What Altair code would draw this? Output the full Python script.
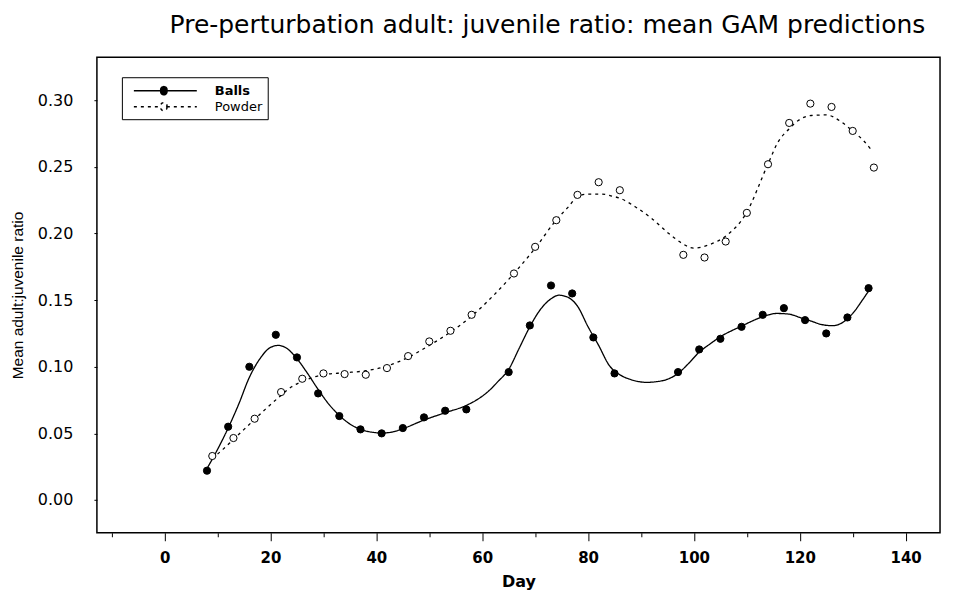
import altair as alt
import pandas as pd

# Observed means (points)
balls_day = [8, 12, 16, 21, 25, 29, 33, 37, 41, 45, 49, 53, 57, 65, 69, 73, 77, 81, 85,
             97, 101, 105, 109, 113, 117, 121, 125, 129, 133]
balls_obs = [0.022, 0.055, 0.100, 0.124, 0.107, 0.080, 0.063, 0.053, 0.050, 0.054, 0.062,
             0.067, 0.068, 0.096, 0.131, 0.161, 0.155, 0.122, 0.095, 0.096, 0.113, 0.121,
             0.130, 0.139, 0.144, 0.135, 0.125, 0.137, 0.159]

powder_day = [9, 13, 17, 22, 26, 30, 34, 38, 42, 46, 50, 54, 58, 66, 70, 74, 78, 82, 86,
              98, 102, 106, 110, 114, 118, 122, 126, 130, 134]
powder_obs = [0.033, 0.0465, 0.061, 0.081, 0.091, 0.095, 0.0945, 0.094, 0.099, 0.108, 0.119,
              0.127, 0.139, 0.170, 0.190, 0.210, 0.229, 0.2385, 0.2325, 0.184, 0.182, 0.194,
              0.2155, 0.252, 0.283, 0.2975, 0.295, 0.277, 0.2495]

# GAM fitted curves
balls_fit_day = [8, 10, 12, 14, 16, 18, 20, 21.5, 23, 25, 27, 29, 31, 33, 35, 37, 39, 41, 43,
                 45, 49, 53, 57, 59.3, 61, 63, 65, 67, 69, 71, 73, 74.5, 76, 78, 80, 82, 84,
                 86, 88, 91, 94, 97, 99, 101, 103, 105, 109, 113, 115.6, 118, 120, 122, 124,
                 126.2, 128, 130, 132, 133.2]
balls_fit = [0.0236, 0.038, 0.054, 0.072, 0.092, 0.106, 0.1145, 0.116, 0.114, 0.106, 0.095,
             0.083, 0.072, 0.0635, 0.057, 0.053, 0.051, 0.0503, 0.051, 0.0535, 0.060, 0.0655,
             0.071, 0.076, 0.081, 0.089, 0.098, 0.114, 0.130, 0.143, 0.151, 0.1537, 0.1525,
             0.1455, 0.130, 0.116, 0.101, 0.094, 0.0905, 0.0883, 0.0895, 0.095, 0.1025, 0.111,
             0.117, 0.1225, 0.1305, 0.1375, 0.140, 0.1395, 0.137, 0.1345, 0.1318, 0.1308,
             0.133, 0.140, 0.151, 0.158]

powder_fit_day = [9, 11, 13, 15, 17, 19, 22, 24, 26, 28, 30, 34, 38, 42, 46, 50, 54, 58, 62,
                  66, 70, 74, 76.3, 78.1, 80.1, 82.6, 84.5, 86.1, 88.9, 92, 95.2, 97.7, 99.9,
                  102.8, 105.9, 109.7, 113.9, 115.9, 118, 119.7, 122.2, 125, 127.9, 130, 132,
                  133.5]
powder_fit = [0.031, 0.038, 0.0455, 0.053, 0.0605, 0.068, 0.0785, 0.085, 0.089, 0.092, 0.094,
              0.0955, 0.097, 0.1005, 0.107, 0.116, 0.126, 0.138, 0.153, 0.170, 0.189, 0.2102,
              0.2201, 0.2281, 0.2296, 0.2296, 0.2281, 0.2264, 0.2201, 0.2114, 0.2002, 0.1928,
              0.189, 0.1915, 0.1978, 0.214, 0.2513, 0.2687, 0.2786, 0.2848, 0.2886, 0.289,
              0.2836, 0.2769, 0.2699, 0.2629]

series = ["Balls", "Powder"]
x_values = list(range(-10, 150, 10))
y_values = [0.0, 0.025, 0.05, 0.075, 0.1, 0.125, 0.15, 0.175, 0.2, 0.225, 0.25, 0.275, 0.3, 0.325]

obs = pd.DataFrame({
    "day": balls_day + powder_day,
    "ratio": balls_obs + powder_obs,
    "series": ["Balls"] * len(balls_day) + ["Powder"] * len(powder_day),
})
fit = pd.DataFrame({
    "day": balls_fit_day + powder_fit_day,
    "ratio": balls_fit + powder_fit,
    "series": ["Balls"] * len(balls_fit_day) + ["Powder"] * len(powder_fit_day),
})

FONT = "DejaVu Sans"
FONT2 = "Liberation Sans"
# legend sample: a line with a small circle in its middle (unit = 7.5 px)
SYMBOL = ("M-0.2,0L3.4,0M4.2,0L8.2,0"
          "M4.2,0A0.42,0.42,0,1,1,3.4,0A0.42,0.42,0,1,1,4.2,0Z")

legend_common = dict(
    orient="none", legendX=25, legendY=20, title=None,
    strokeColor="black", fillColor="white", padding=5,
    symbolType=SYMBOL, symbolSize=225, symbolStrokeColor="black",
    symbolStrokeWidth=1.5, labelFont=FONT, labelFontSize=13, labelOffset=71,
    labelColor="black", rowPadding=0,
    labelFontWeight={"expr": "datum.value == 'Balls' ? 'bold' : 'normal'"},
)

x_enc = alt.X("day:Q", scale=alt.Scale(domain=[-12.8, 146.5], nice=False, zero=False),
              axis=alt.Axis(values=x_values, title="Day",
                            labelExpr="datum.value % 20 == 0 ? datum.label : ''",
                            tickSize={"condition": {"test": "datum.value % 20 == 0", "value": 8}, "value": 4},
                            domain=False, grid=False, tickColor="black",
                            labelFont=FONT, labelFontSize=15, labelFontWeight="bold",
                            labelColor="black", labelPadding=10,
                            titleFont=FONT, titleFontSize=16, titleFontWeight="bold",
                            titleColor="black", titlePadding=8))
y_enc = alt.Y("ratio:Q", scale=alt.Scale(domain=[-0.0246, 0.3323], nice=False, zero=False),
              axis=alt.Axis(values=y_values, title="Mean adult:juvenile ratio",
                            labelExpr="abs(datum.value * 20 - round(datum.value * 20)) < 0.001 ? format(datum.value, '.2f') : ''",
                            tickSize=3, domain=False, grid=False, tickColor="black",
                            labelFont=FONT, labelFontSize=16, labelColor="black",
                            labelPadding=21,
                            titleFont=FONT2, titleFontSize=15.5, titleFontWeight="normal",
                            titleColor="black", titlePadding=12))

lines = alt.Chart(fit).mark_line(interpolate="monotone", color="black", strokeWidth=1.3).encode(
    x=x_enc, y=y_enc,
    strokeDash=alt.StrokeDash("series:N",
                              scale=alt.Scale(domain=series, range=[[1, 0], [3, 4]]),
                              legend=alt.Legend(**legend_common)),
    detail="series:N",
)

points = alt.Chart(obs).mark_point(shape="circle", size=52, stroke="black", strokeWidth=1,
                                   opacity=1).encode(
    x="day:Q", y="ratio:Q",
    fill=alt.Fill("series:N", scale=alt.Scale(domain=series, range=["black", "white"]),
                  legend=alt.Legend(**legend_common)),
)

chart = alt.layer(lines, points).properties(
    width=844, height=476,
    title=alt.TitleParams(
        "Pre-perturbation  adult: juvenile ratio: mean GAM predictions",
        font=FONT, fontSize=25, fontWeight="normal", color="black",
        anchor="middle", dx=29, offset=19,
    ),
    padding={"left": 2, "top": 5, "right": 25, "bottom": 5},
).configure_view(stroke="black", strokeWidth=1.5)

chart.save("out.html", embed_options={"renderer": "svg", "actions": False})
